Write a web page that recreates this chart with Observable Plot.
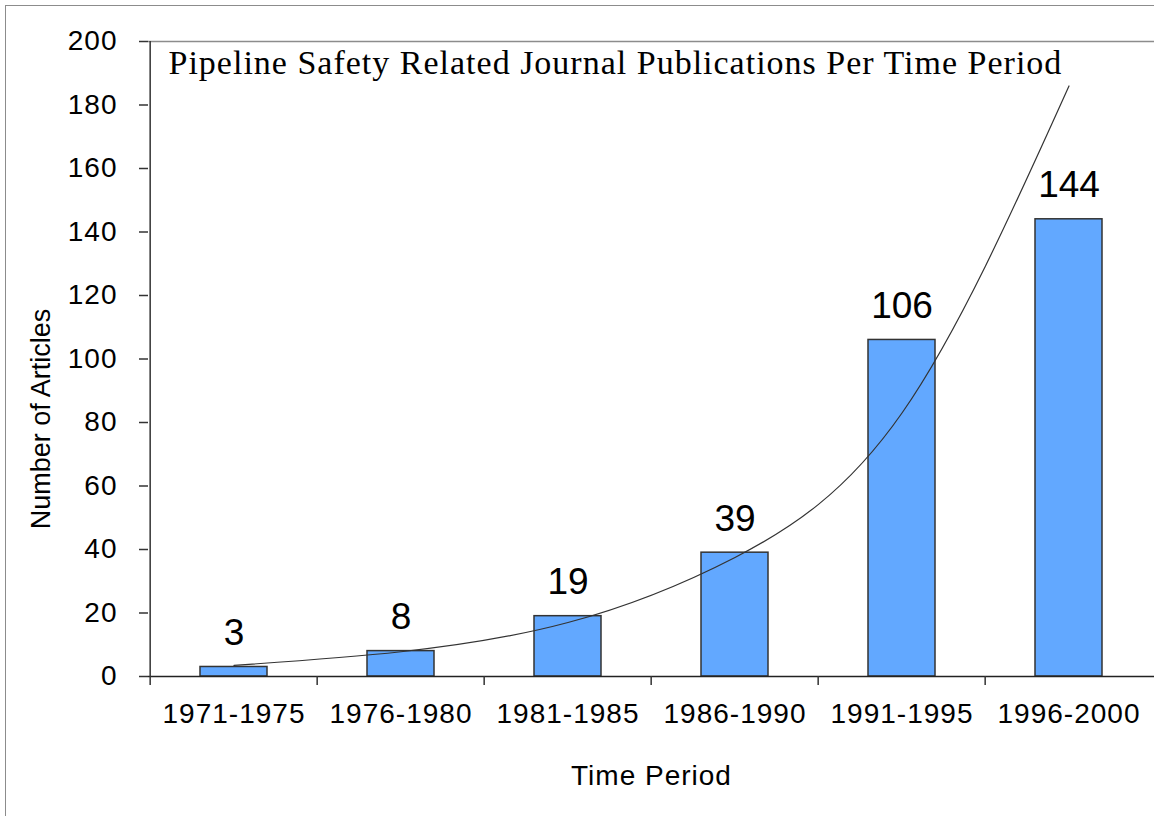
<!DOCTYPE html>
<html><head><meta charset="utf-8">
<script src="https://cdn.jsdelivr.net/npm/d3@7"></script>
<script src="https://cdn.jsdelivr.net/npm/@observablehq/plot@0.6"></script>
<style>
body{margin:0;background:#fff;}
#wrap{position:relative;width:1154px;height:816px;overflow:hidden;}
#border{position:absolute;left:5px;top:5px;right:-5px;bottom:-5px;border-left:1.5px solid #8c8c8c;border-top:1.5px solid #8c8c8c;}
#wrap svg{position:absolute;left:0;top:0;}
g[aria-label="x-axis tick label"] text, g[aria-label="y-axis tick label"] text{letter-spacing:1px;}
</style></head><body><div id="wrap"><div id="border"></div></div>
<script>
const periods = ["1971-1975","1976-1980","1981-1985","1986-1990","1991-1995","1996-2000"];
const articles = [3, 8, 19, 39, 106, 144];
const trend = [3.5, 7.8, 17, 37.5, 83, 186];
const yTicks = [0, 20, 40, 60, 80, 100, 120, 140, 160, 180, 200];
const title = "Pipeline Safety Related Journal Publications Per Time Period";
const xTitle = "Time Period";
const yTitle = "Number of Articles";

const data = periods.map((p, i) => ({period: p, n: articles[i], t: trend[i]}));
const W = 1154, H = 816, ML = 148, MR = 0, MT = 41, MB = 140;
const step = (W - ML - MR) / periods.length;

const chart = Plot.plot({
  width: W, height: H,
  marginLeft: ML, marginRight: MR, marginTop: MT, marginBottom: MB,
  style: {fontFamily: "'Liberation Sans', Arial, sans-serif", background: "transparent", overflow: "visible"},
  x: {domain: periods, paddingInner: 0.6, paddingOuter: 0.3},
  y: {domain: [0, 200]},
  marks: [
    Plot.ruleY([200], {stroke: "#8c8c8c", strokeWidth: 1.5}),
    Plot.rectY(data, {x: "period", y: "n", fill: "#62a8ff", stroke: "#333", strokeWidth: 1.5}),
    Plot.lineY(data, {x: "period", y: "t", curve: "natural", stroke: "#333", strokeWidth: 1.2}),
    Plot.text(data, {x: "period", y: "n", text: d => String(d.n), lineAnchor: "bottom", dy: -22, fontSize: 37, fill: "#000"}),
    Plot.ruleY([0], {stroke: "#222", strokeWidth: 1.5}),
    Plot.ruleX([periods[0]], {dx: -step / 2, stroke: "#333", strokeWidth: 1.5}),
    Plot.axisY({ticks: yTicks, tickSize: 9, tickPadding: 22, fontSize: 28, label: null, stroke: "#333", strokeWidth: 1.5}),
    Plot.axisX({tickSize: 9, dx: -step / 2, tickFormat: () => "", label: null, stroke: "#333", strokeWidth: 1.5}),
    Plot.axisX({tickSize: 0, tickPadding: 27, fontSize: 28, label: null}),
    Plot.text([xTitle], {frameAnchor: "bottom", lineAnchor: "top", dy: 89, fontSize: 28, fill: "#000"}),
    Plot.text([yTitle], {frameAnchor: "left", textAnchor: "middle", rotate: -90, lineAnchor: "middle", dx: -107, dy: 60, fontSize: 27, fill: "#000"}),
    Plot.text([title], {frameAnchor: "top-left", textAnchor: "start", lineAnchor: "top", dx: 20, dy: 8,
      fontFamily: "'Liberation Serif', 'DejaVu Serif', serif", fontSize: 34, fill: "#000"})
  ]
});
d3.select(chart).selectAll("text")
  .filter(function() { const t = this.textContent; return t === title || t === xTitle; })
  .style("letter-spacing", "1px");
document.getElementById("wrap").appendChild(chart);
</script>
</body></html>
